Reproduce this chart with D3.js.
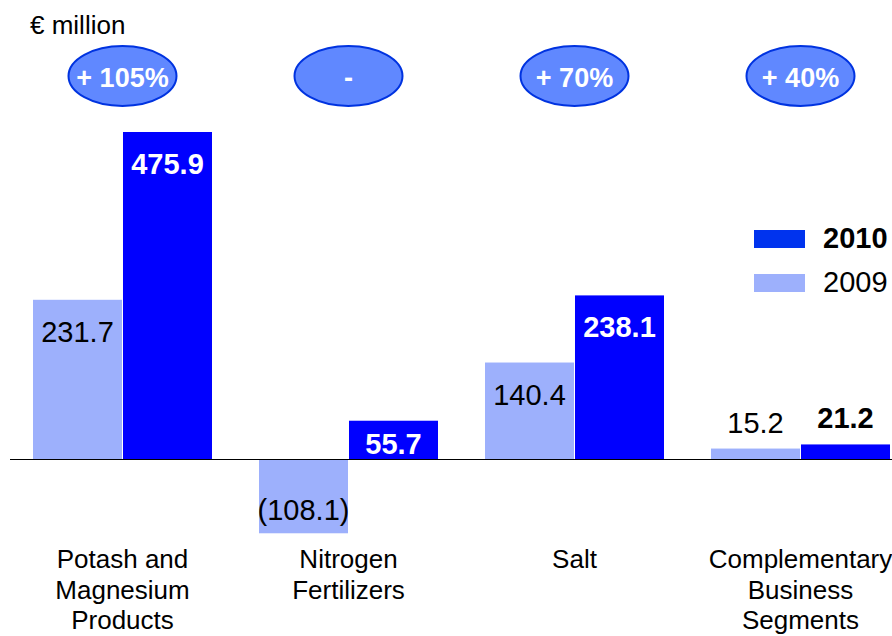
<!DOCTYPE html>
<html>
<head>
<meta charset="utf-8">
<script src="https://cdn.jsdelivr.net/npm/d3@7"></script>
<style>
  html, body { margin: 0; padding: 0; background: #fff; }
  svg { display: block; font-family: "Liberation Sans", Arial, sans-serif; }
</style>
</head>
<body>
<svg id="chart" width="892" height="636"></svg>
<script>
// Segment EBIT, € million
const categories = [
  ["Potash and", "Magnesium", "Products"],
  ["Nitrogen", "Fertilizers"],
  ["Salt"],
  ["Complementary", "Business", "Segments"]
];
const values2009 = [231.7, -108.1, 140.4, 15.2];
const values2010 = [475.9, 55.7, 238.1, 21.2];
const changeLabels = ["+ 105%", "-", "+ 70%", "+ 40%"];
const seriesNames = ["2010", "2009"];

const colors = { y2010: "#0000ff", y2009: "#9db0fc", badge: "#6088ff", badgeStroke: "#0033e0", legend2010: "#0033ee" };

const svg = d3.select("#chart");
const idx = d3.range(categories.length);

const x = d3.scaleBand().domain(idx).range([9.5, 913.5]).paddingInner(47 / 226).paddingOuter(47 / 452);
const x2 = d3.scaleBand().domain(["2009", "2010"]).range([0, x.bandwidth()]).paddingInner(0.011);
const y = d3.scaleLinear().domain([0, 475.9]).range([459, 132]);
const cx = i => x(i) + x.bandwidth() / 2;

// unit label
svg.append("text").attr("x", 30).attr("y", 34).attr("font-size", 26).attr("fill", "#000").text("€ million");

// change badges
const badge = svg.append("g").selectAll("g").data(idx).join("g")
  .attr("transform", i => `translate(${cx(i)},76)`);
badge.append("ellipse").attr("rx", 54).attr("ry", 30)
  .attr("fill", colors.badge).attr("stroke", colors.badgeStroke).attr("stroke-width", 2);
badge.append("text").attr("text-anchor", "middle").attr("y", 11)
  .attr("font-size", 27).attr("font-weight", "bold").attr("fill", "#fff")
  .text(i => changeLabels[i]);

// bars
const barTop = v => y(Math.max(0, v));
const barH = v => Math.abs(y(v) - y(0));
const g = svg.append("g");
g.selectAll("rect.b09").data(idx).join("rect").attr("class", "b09")
  .attr("x", i => x(i) + x2("2009")).attr("width", x2.bandwidth())
  .attr("y", i => barTop(values2009[i])).attr("height", i => barH(values2009[i]))
  .attr("fill", colors.y2009);
g.selectAll("rect.b10").data(idx).join("rect").attr("class", "b10")
  .attr("x", i => x(i) + x2("2010")).attr("width", x2.bandwidth())
  .attr("y", i => barTop(values2010[i])).attr("height", i => barH(values2010[i]))
  .attr("fill", colors.y2010);

// baseline
svg.append("line").attr("x1", 10).attr("x2", 892).attr("y1", y(0) + 0.5).attr("y2", y(0) + 0.5)
  .attr("stroke", "#000").attr("stroke-width", 1.2);

// value labels: inside the bar near its top when tall, above it when short,
// below the bar end for negatives
const fmt = v => v < 0 ? `(${d3.format(".1f")(-v)})` : d3.format(".1f")(v);
function labelY(v) {
  const h = barH(v);
  if (v < 0) return y(v) - 13;
  if (h < 20) return y(v) - 16;
  if (h < 60) return y(0) - 5;
  return y(v) + 42;
}
g.selectAll("text.l09").data(idx).join("text").attr("class", "l09")
  .attr("x", i => x(i) + x2("2009") + x2.bandwidth() / 2)
  .attr("y", i => labelY(values2009[i]))
  .attr("fill", "#000")
  .attr("text-anchor", "middle").attr("font-size", 29)
  .text(i => fmt(values2009[i]));
g.selectAll("text.l10").data(idx).join("text").attr("class", "l10")
  .attr("x", i => x(i) + x2("2010") + x2.bandwidth() / 2)
  .attr("y", i => labelY(values2010[i]))
  .attr("fill", i => barH(values2010[i]) < 20 ? "#000" : "#fff")
  .attr("text-anchor", "middle").attr("font-size", 29).attr("font-weight", "bold")
  .text(i => fmt(values2010[i]));

// category labels
const cat = svg.append("g").selectAll("text").data(idx).join("text")
  .attr("text-anchor", "middle").attr("font-size", 26).attr("fill", "#000")
  .attr("x", i => cx(i));
cat.selectAll("tspan").data(i => categories[i].map(t => ({ t, x: cx(i) }))).join("tspan")
  .attr("x", d => d.x)
  .attr("y", (d, j) => 568 + j * 30.5)
  .text(d => d.t);

// legend
const legend = svg.append("g").selectAll("g").data(seriesNames).join("g")
  .attr("transform", (d, i) => `translate(754,${230 + i * 44})`);
legend.append("rect").attr("width", 51).attr("height", 18)
  .attr("fill", d => d === "2010" ? colors.legend2010 : colors.y2009);
legend.append("text").attr("x", 69).attr("y", 18).attr("font-size", 29)
  .attr("font-weight", d => d === "2010" ? "bold" : "normal").text(d => d);
</script>
</body>
</html>
